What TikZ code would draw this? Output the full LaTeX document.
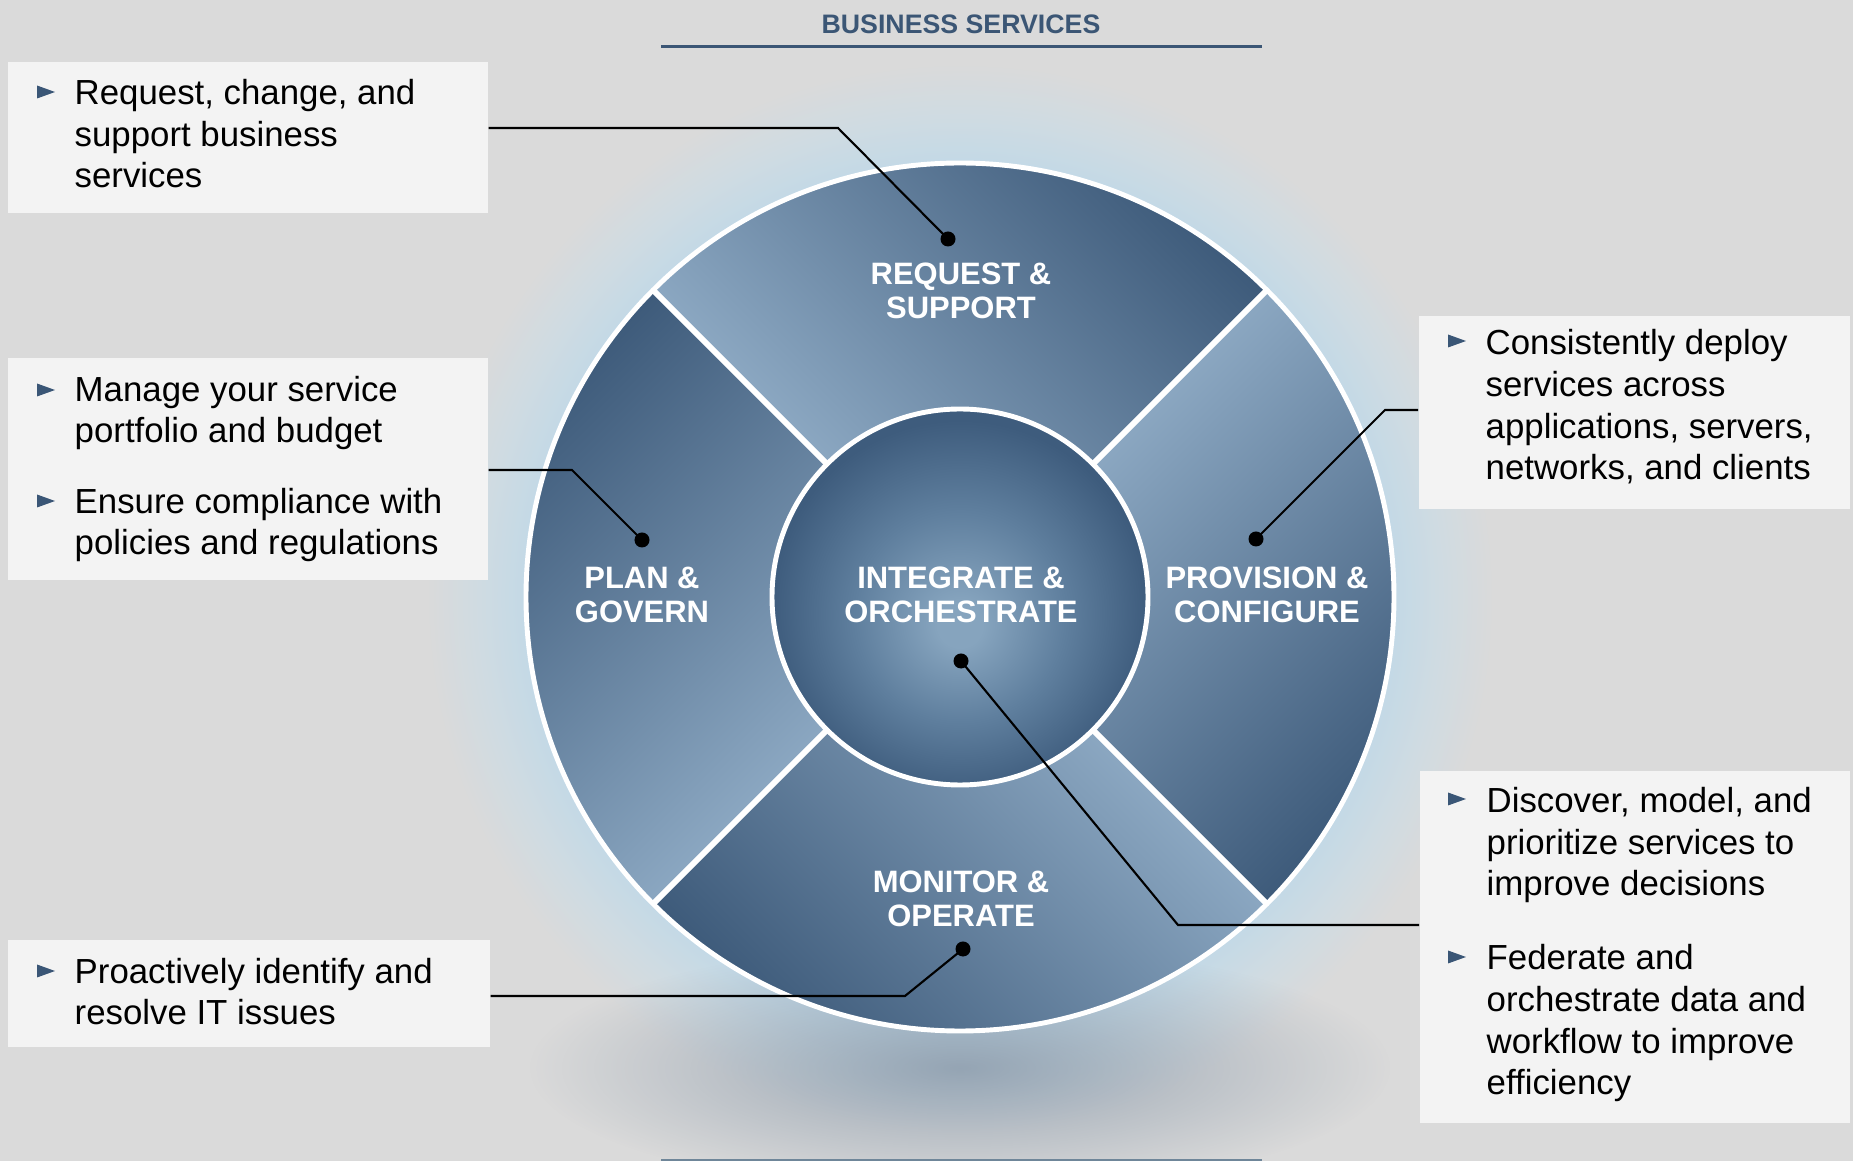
\documentclass[tikz,border=0pt]{standalone}
\usepackage{fontspec}
\setmainfont{Liberation Sans}
\usetikzlibrary{calc,fadings}
\definecolor{bgc}{HTML}{DADADA}
\definecolor{boxc}{HTML}{F3F3F3}
\definecolor{titlec}{HTML}{3B5675}
\definecolor{bulletc}{HTML}{3A5676}
\definecolor{glowc}{HTML}{C3D9E6}
\definecolor{glowmid}{HTML}{CFDBE2}
\definecolor{shadowc}{HTML}{8797A8}
\definecolor{secdark}{HTML}{3A5777}
\definecolor{seclight}{HTML}{8FABC5}
\definecolor{hublight}{HTML}{86A4BE}
\definecolor{hubmid}{HTML}{5F7F9E}
\definecolor{hubdark}{HTML}{3E5C7D}
\definecolor{baselinec}{HTML}{6F8699}
\pgfdeclareradialshading{haloshade}{\pgfpointorigin}{color(0bp)=(glowc); color(20.3bp)=(glowc); color(22.5bp)=(glowmid); color(25bp)=(bgc); color(40bp)=(bgc)}
\pgfdeclareradialshading{hubshade}{\pgfpoint{0bp}{-4bp}}{color(0bp)=(hublight); color(3bp)=(hublight); color(14bp)=(hubmid); color(25bp)=(hubdark); color(40bp)=(hubdark)}
\tikzfading[name=softspot, inner color=transparent!0, outer color=transparent!100]
\tikzset{
  bodytext/.style={anchor=base west, align=left, inner sep=0pt, font=\fontsize{9.9pt}{11.9pt}\selectfont, text=black},
  wheeltext/.style={align=center, inner sep=0pt, text=white, font=\bfseries\fontsize{8.8pt}{9.7pt}\selectfont},
  infobox/.style={anchor=north west, fill=boxc, inner sep=0pt, draw=none},
  leader/.style={draw=black, line width=0.6pt},
  leaderdot/.style={circle, fill=black, inner sep=0pt, minimum size=0.15cm},
  wheeldivider/.style={draw=white, line width=1.7pt},
  wheelrim/.style={draw=white, line width=1.4pt},
  bulletmark/.style={fill=bulletc}
}
\newcommand\sectorpath[1]{($(C)+(-#1:434)$) arc[start angle=-#1, end angle=-#1-90, radius=434] -- ($(C)+(-#1-90:188)$) arc[start angle=-#1-90, end angle=-#1, radius=188] -- cycle}
\newcommand\bulletat[2]{\fill[bulletmark] (#1,#2-6.5) -- (#1+18,#2) -- (#1,#2+6.5) -- cycle;}
\begin{document}
\begin{tikzpicture}[x=0.01cm,y=-0.01cm]
\path[use as bounding box, fill=bgc] (0,0) rectangle (1853,1161);
\coordinate (C) at (960,597);
% glow and shadow
\shade[shading=haloshade] (C) circle (534);
\fill[shadowc, opacity=0.8, path fading=softspot] (960,1068) ellipse (430 and 125);
% title
\node[font=\bfseries\fontsize{7.6pt}{9pt}\selectfont, text=titlec, inner sep=0pt] (title) at (961,24) {BUSINESS SERVICES};
\coordinate (ulA) at (661,47);
\coordinate (ulB) at (1262,47);
\draw[titlec, line width=0.85pt] (ulA) -- (ulB);
\coordinate (blA) at (661,1160);
\coordinate (blB) at (1262,1160);
\draw[baselinec, line width=0.6pt] (blA) -- (blB);
% boxes
\node[infobox, minimum width=4.80cm, minimum height=1.51cm] (box1) at (7,61) {};
\node[infobox, minimum width=4.80cm, minimum height=2.22cm] (box2) at (7,357) {};
\node[infobox, minimum width=4.31cm, minimum height=1.93cm] (box3) at (1418,315) {};
\node[infobox, minimum width=4.30cm, minimum height=3.52cm] (box4) at (1419,770) {};
\node[infobox, minimum width=4.82cm, minimum height=1.07cm] (box5) at (7,939) {};
% wheel sectors
\shade[top color=secdark, bottom color=seclight, shading angle=-45] \sectorpath{45};
\shade[top color=secdark, bottom color=seclight, shading angle=45] \sectorpath{135};
\shade[top color=secdark, bottom color=seclight, shading angle=135] \sectorpath{225};
\shade[top color=secdark, bottom color=seclight, shading angle=-135] \sectorpath{315};
\shade[shading=hubshade] (C) circle (188);
\foreach \a in {45,135,225,315} \draw[wheeldivider] ($(C)+(\a:188)$) -- ($(C)+(\a:434)$);
\draw[wheelrim] (C) circle (434);
\draw[wheelrim] (C) circle (188);
% wheel labels
\node[wheeltext] (lreq) at (961,291) {REQUEST \&\\SUPPORT};
\node[wheeltext] (lplan) at (642,595) {PLAN \&\\GOVERN};
\node[wheeltext] (lint) at (961,595) {INTEGRATE \&\\ORCHESTRATE};
\node[wheeltext] (lprov) at (1267,595) {PROVISION \&\\CONFIGURE};
\node[wheeltext] (lmon) at (961,899) {MONITOR \&\\OPERATE};
% leaders
\node[leaderdot] (d1) at (948,239) {};
\node[leaderdot] (d2) at (642,540) {};
\node[leaderdot] (d3) at (1256,539) {};
\node[leaderdot] (d4) at (961,661) {};
\node[leaderdot] (d5) at (963,949) {};
\coordinate (k1) at (838,128);
\coordinate (k2) at (572,470);
\coordinate (k3) at (1385,410);
\coordinate (k4) at (1178,925);
\coordinate (k5) at (905,996);
\draw[leader] (box1.east |- k1) -- (k1) -- (d1.center);
\draw[leader] (box2.east |- k2) -- (k2) -- (d2.center);
\draw[leader] (box3.west |- k3) -- (k3) -- (d3.center);
\draw[leader] (d4.center) -- (k4) -- (box4.west |- k4);
\draw[leader] (d5.center) -- (k5) -- (box5.east |- k5);
% texts (anchored at the baseline of the last line)
\node[bodytext] (t1) at (74,188) {Request, change, and\\support business\\services};
\node[bodytext] (t2a) at (74,443) {Manage your service\\portfolio and budget};
\node[bodytext] (t2b) at (74,555) {Ensure compliance with\\policies and regulations};
\node[bodytext] (t3) at (1485,480) {Consistently deploy\\services across\\applications, servers,\\networks, and clients};
\node[bodytext] (t4a) at (1486,896) {Discover, model, and\\prioritize services to\\improve decisions};
\node[bodytext] (t4b) at (1486,1095) {Federate and\\orchestrate data and\\workflow to improve\\efficiency};
\node[bodytext] (t5) at (74,1025) {Proactively identify and\\resolve IT issues};
% bullets
\bulletat{37}{92}
\bulletat{37}{390}
\bulletat{37}{501}
\bulletat{1448}{341}
\bulletat{1448}{799}
\bulletat{1448}{957}
\bulletat{37}{971}
\end{tikzpicture}
\end{document}
